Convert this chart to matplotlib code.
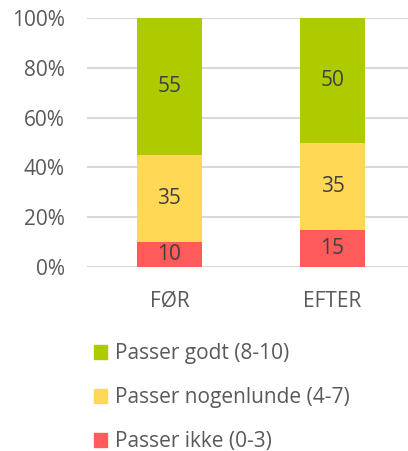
import matplotlib
matplotlib.use("Agg")
import matplotlib.pyplot as plt
from matplotlib.patches import Patch

categories = ["FØR", "EFTER"]
series_names = ["Passer ikke (0-3)", "Passer nogenlunde (4-7)", "Passer godt (8-10)"]
ikke = [10, 15]
nogenlunde = [35, 35]
godt = [55, 50]
yticks = [0, 20, 40, 60, 80, 100]

colors = ["#FF5B5B", "#FFD955", "#AECB00"]
txt = "#595959"

plt.rcParams['font.family'] = ['Open Sans', 'DejaVu Sans']
fig = plt.figure(figsize=(4.08, 4.51), dpi=100)
ax = fig.add_axes([87/408, 1-267/451, 1-87/408, (267-18)/451])

x = list(range(len(categories)))
bottom = [0]*len(categories)
for vals, col in zip([ikke, nogenlunde, godt], colors):
    ax.bar(x, vals, width=0.4, bottom=bottom, color=col, zorder=3)
    for xi, v, b in zip(x, vals, bottom):
        ax.text(xi, b + v/2, str(v), ha='center', va='center', fontsize=15, color='#404040', zorder=4)
    bottom = [b + v for b, v in zip(bottom, vals)]

ax.set_ylim(0, 100)
ax.set_xlim(-0.506, 1.463)
ax.set_yticks(yticks)
ax.set_yticklabels([f"{t}%" for t in yticks])
ax.set_xticks(x)
ax.set_xticklabels(categories)
ax.tick_params(axis='both', length=0, labelsize=15, labelcolor=txt)
ax.tick_params(axis='y', pad=16)
ax.tick_params(axis='x', pad=17)
ax.grid(axis='y', color='#D9D9D9', linewidth=1.5, zorder=0)
for s in ax.spines.values():
    s.set_visible(False)

handles = [Patch(color=colors[2]), Patch(color=colors[1]), Patch(color=colors[0])]
labels = [series_names[2], series_names[1], series_names[0]]
fig.legend(handles, labels, loc='upper left', bbox_to_anchor=(86/408, 1-335/451),
           frameon=False, fontsize=15, labelcolor=txt, handlelength=0.62, handleheight=0.62,
           handletextpad=0.38, labelspacing=1.1, borderaxespad=0)

fig.savefig("out.png", dpi=100)
